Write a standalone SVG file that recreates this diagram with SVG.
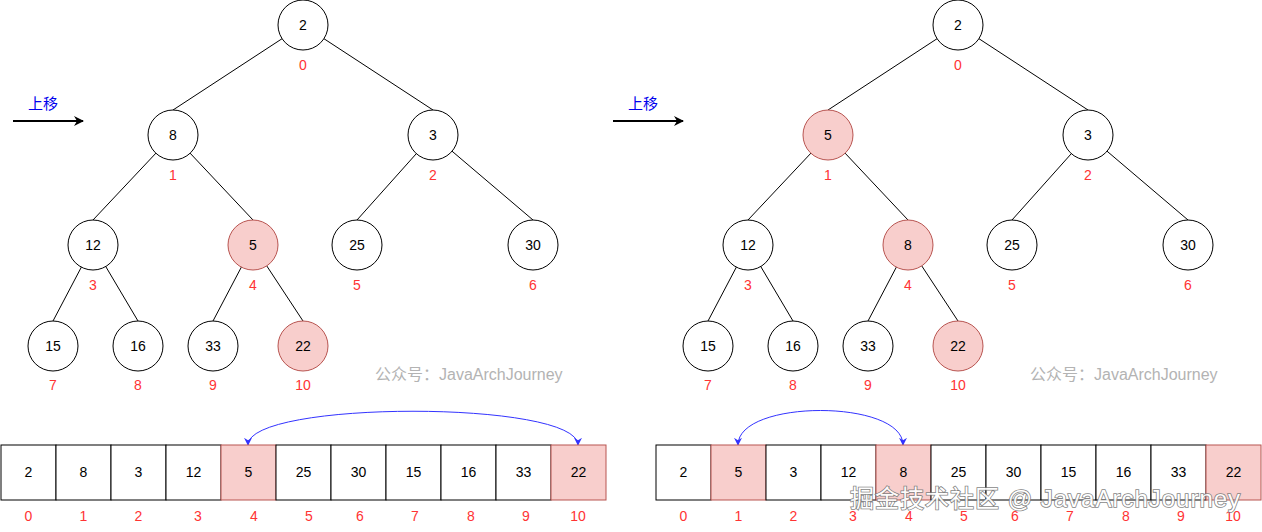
<svg xmlns="http://www.w3.org/2000/svg" width="1262" height="532" viewBox="0 0 1262 532">
<style>
.n{fill:#fff;stroke:#000;stroke-width:1}
.p{fill:#f8cecc;stroke:#b85450;stroke-width:1}
.t{font-family:"Liberation Sans",Arial,sans-serif;font-size:14px;fill:#000;text-anchor:middle}
.i{font-family:"Liberation Sans",Arial,sans-serif;font-size:14px;fill:#ff3333;text-anchor:middle}
.e{stroke:#000;stroke-width:1;fill:none}
.c{stroke:#3333ff;stroke-width:1;fill:none;marker-end:url(#bh);marker-start:url(#bs)}
.lbl{font-family:"Liberation Sans","Noto Sans CJK SC",sans-serif;font-size:15px;fill:#0000ee}
.wm{font-family:"Liberation Sans","Noto Sans CJK SC",sans-serif;font-size:16px;fill:#b3b3b3}
.wm2{font-family:"Liberation Sans","Noto Sans CJK SC",sans-serif;font-size:24px;letter-spacing:1px;fill:#fff;stroke:#777;stroke-width:1.6;paint-order:stroke;opacity:0.9}
</style>
<defs>
<marker id="bh" viewBox="0 0 10 10" refX="9" refY="5" markerWidth="8" markerHeight="8" orient="auto" markerUnits="userSpaceOnUse">
<path d="M0,0 L10,5 L0,10 L3,5 Z" fill="#3333ff"/>
</marker>
<marker id="bs" viewBox="0 0 10 10" refX="9" refY="5" markerWidth="8" markerHeight="8" orient="auto-start-reverse" markerUnits="userSpaceOnUse">
<path d="M0,0 L10,5 L0,10 L3,5 Z" fill="#3333ff"/>
</marker>
<marker id="ah" viewBox="0 0 10 10" refX="9" refY="5" markerWidth="10" markerHeight="10" orient="auto" markerUnits="userSpaceOnUse">
<path d="M0,0 L10,5 L0,10 L3,5 Z" fill="#000"/>
</marker>
</defs>
<rect width="1262" height="532" fill="#fff"/>

<g id="connectors">
<line class="e" x1="303" y1="25" x2="173" y2="110"/>
<line class="e" x1="303" y1="25" x2="433" y2="110"/>
<line class="e" x1="173" y1="135" x2="93" y2="220"/>
<line class="e" x1="173" y1="135" x2="253" y2="220"/>
<line class="e" x1="433" y1="135" x2="357" y2="220"/>
<line class="e" x1="433" y1="135" x2="533" y2="220"/>
<line class="e" x1="93" y1="245" x2="53" y2="321"/>
<line class="e" x1="93" y1="245" x2="138" y2="321"/>
<line class="e" x1="253" y1="245" x2="213" y2="321"/>
<line class="e" x1="253" y1="245" x2="303" y2="321"/>
<line class="e" x1="958" y1="25" x2="828" y2="110"/>
<line class="e" x1="958" y1="25" x2="1088" y2="110"/>
<line class="e" x1="828" y1="135" x2="748" y2="220"/>
<line class="e" x1="828" y1="135" x2="908" y2="220"/>
<line class="e" x1="1088" y1="135" x2="1012" y2="220"/>
<line class="e" x1="1088" y1="135" x2="1188" y2="220"/>
<line class="e" x1="748" y1="245" x2="708" y2="321"/>
<line class="e" x1="748" y1="245" x2="793" y2="321"/>
<line class="e" x1="908" y1="245" x2="868" y2="321"/>
<line class="e" x1="908" y1="245" x2="958" y2="321"/>
<line x1="13" y1="121" x2="83" y2="121" stroke="#000" stroke-width="2" marker-end="url(#ah)"/>
<line x1="613" y1="121" x2="683" y2="121" stroke="#000" stroke-width="2" marker-end="url(#ah)"/>
<path class="c" d="M248,445 C248,400 578,400 578,445"/>
<path class="c" d="M738,445 C738,399 903,399 903,445"/>
</g>

<text class="lbl" x="28" y="109">上移</text>
<text class="lbl" x="628" y="109">上移</text>

<g id="L0"><circle class="n" cx="303" cy="25" r="25"/><text class="t" x="303" y="30">2</text><text class="i" x="303" y="70">0</text></g>
<g id="L1"><circle class="n" cx="173" cy="135" r="25"/><text class="t" x="173" y="140">8</text><text class="i" x="173" y="180">1</text></g>
<g id="L2"><circle class="n" cx="433" cy="135" r="25"/><text class="t" x="433" y="140">3</text><text class="i" x="433" y="180">2</text></g>
<g id="L3"><circle class="n" cx="93" cy="245" r="25"/><text class="t" x="93" y="250">12</text><text class="i" x="93" y="290">3</text></g>
<g id="L4"><circle class="p" cx="253" cy="245" r="25"/><text class="t" x="253" y="250">5</text><text class="i" x="253" y="290">4</text></g>
<g id="L5"><circle class="n" cx="357" cy="245" r="25"/><text class="t" x="357" y="250">25</text><text class="i" x="357" y="290">5</text></g>
<g id="L6"><circle class="n" cx="533" cy="245" r="25"/><text class="t" x="533" y="250">30</text><text class="i" x="533" y="290">6</text></g>
<g id="L7"><circle class="n" cx="53" cy="346" r="25"/><text class="t" x="53" y="351">15</text><text class="i" x="53" y="390">7</text></g>
<g id="L8"><circle class="n" cx="138" cy="346" r="25"/><text class="t" x="138" y="351">16</text><text class="i" x="138" y="390">8</text></g>
<g id="L9"><circle class="n" cx="213" cy="346" r="25"/><text class="t" x="213" y="351">33</text><text class="i" x="213" y="390">9</text></g>
<g id="L10"><circle class="p" cx="303" cy="346" r="25"/><text class="t" x="303" y="351">22</text><text class="i" x="303" y="390">10</text></g>

<g id="R0"><circle class="n" cx="958" cy="25" r="25"/><text class="t" x="958" y="30">2</text><text class="i" x="958" y="70">0</text></g>
<g id="R1"><circle class="p" cx="828" cy="135" r="25"/><text class="t" x="828" y="140">5</text><text class="i" x="828" y="180">1</text></g>
<g id="R2"><circle class="n" cx="1088" cy="135" r="25"/><text class="t" x="1088" y="140">3</text><text class="i" x="1088" y="180">2</text></g>
<g id="R3"><circle class="n" cx="748" cy="245" r="25"/><text class="t" x="748" y="250">12</text><text class="i" x="748" y="290">3</text></g>
<g id="R4"><circle class="p" cx="908" cy="245" r="25"/><text class="t" x="908" y="250">8</text><text class="i" x="908" y="290">4</text></g>
<g id="R5"><circle class="n" cx="1012" cy="245" r="25"/><text class="t" x="1012" y="250">25</text><text class="i" x="1012" y="290">5</text></g>
<g id="R6"><circle class="n" cx="1188" cy="245" r="25"/><text class="t" x="1188" y="250">30</text><text class="i" x="1188" y="290">6</text></g>
<g id="R7"><circle class="n" cx="708" cy="346" r="25"/><text class="t" x="708" y="351">15</text><text class="i" x="708" y="390">7</text></g>
<g id="R8"><circle class="n" cx="793" cy="346" r="25"/><text class="t" x="793" y="351">16</text><text class="i" x="793" y="390">8</text></g>
<g id="R9"><circle class="n" cx="868" cy="346" r="25"/><text class="t" x="868" y="351">33</text><text class="i" x="868" y="390">9</text></g>
<g id="R10"><circle class="p" cx="958" cy="346" r="25"/><text class="t" x="958" y="351">22</text><text class="i" x="958" y="390">10</text></g>

<text class="wm" x="375" y="380">公众号：JavaArchJourney</text>
<text class="wm" x="1030" y="380">公众号：JavaArchJourney</text>

<g id="LA">
<rect class="n" x="1" y="445" width="55" height="55"/><text class="t" x="28.5" y="477">2</text><text class="i" x="28.5" y="521">0</text>
<rect class="n" x="56" y="445" width="55" height="55"/><text class="t" x="83.5" y="477">8</text><text class="i" x="83.5" y="521">1</text>
<rect class="n" x="111" y="445" width="55" height="55"/><text class="t" x="138.5" y="477">3</text><text class="i" x="138.5" y="521">2</text>
<rect class="n" x="166" y="445" width="55" height="55"/><text class="t" x="193.5" y="477">12</text><text class="i" x="198" y="521">3</text>
<rect class="p" x="221" y="445" width="55" height="55"/><text class="t" x="248.5" y="477">5</text><text class="i" x="254" y="521">4</text>
<rect class="n" x="276" y="445" width="55" height="55"/><text class="t" x="303.5" y="477">25</text><text class="i" x="309" y="521">5</text>
<rect class="n" x="331" y="445" width="55" height="55"/><text class="t" x="358.5" y="477">30</text><text class="i" x="360" y="521">6</text>
<rect class="n" x="386" y="445" width="55" height="55"/><text class="t" x="413.5" y="477">15</text><text class="i" x="415" y="521">7</text>
<rect class="n" x="441" y="445" width="55" height="55"/><text class="t" x="468.5" y="477">16</text><text class="i" x="471" y="521">8</text>
<rect class="n" x="496" y="445" width="55" height="55"/><text class="t" x="523.5" y="477">33</text><text class="i" x="526" y="521">9</text>
<rect class="p" x="551" y="445" width="55" height="55"/><text class="t" x="578.5" y="477">22</text><text class="i" x="578" y="521">10</text>
</g>

<g id="RA">
<rect class="n" x="656" y="445" width="55" height="55"/><text class="t" x="683.5" y="477">2</text><text class="i" x="683.5" y="521">0</text>
<rect class="p" x="711" y="445" width="55" height="55"/><text class="t" x="738.5" y="477">5</text><text class="i" x="738.5" y="521">1</text>
<rect class="n" x="766" y="445" width="55" height="55"/><text class="t" x="793.5" y="477">3</text><text class="i" x="793.5" y="521">2</text>
<rect class="n" x="821" y="445" width="55" height="55"/><text class="t" x="848.5" y="477">12</text><text class="i" x="853" y="521">3</text>
<rect class="p" x="876" y="445" width="55" height="55"/><text class="t" x="903.5" y="477">8</text><text class="i" x="909" y="521">4</text>
<rect class="n" x="931" y="445" width="55" height="55"/><text class="t" x="958.5" y="477">25</text><text class="i" x="964" y="521">5</text>
<rect class="n" x="986" y="445" width="55" height="55"/><text class="t" x="1013.5" y="477">30</text><text class="i" x="1015" y="521">6</text>
<rect class="n" x="1041" y="445" width="55" height="55"/><text class="t" x="1068.5" y="477">15</text><text class="i" x="1070" y="521">7</text>
<rect class="n" x="1096" y="445" width="55" height="55"/><text class="t" x="1123.5" y="477">16</text><text class="i" x="1126" y="521">8</text>
<rect class="n" x="1151" y="445" width="55" height="55"/><text class="t" x="1178.5" y="477">33</text><text class="i" x="1181" y="521">9</text>
<rect class="p" x="1206" y="445" width="55" height="55"/><text class="t" x="1233.5" y="477">22</text><text class="i" x="1233" y="521">10</text>
</g>

<text class="wm2" x="850" y="507">掘金技术社区 @ JavaArchJourney</text>
</svg>
